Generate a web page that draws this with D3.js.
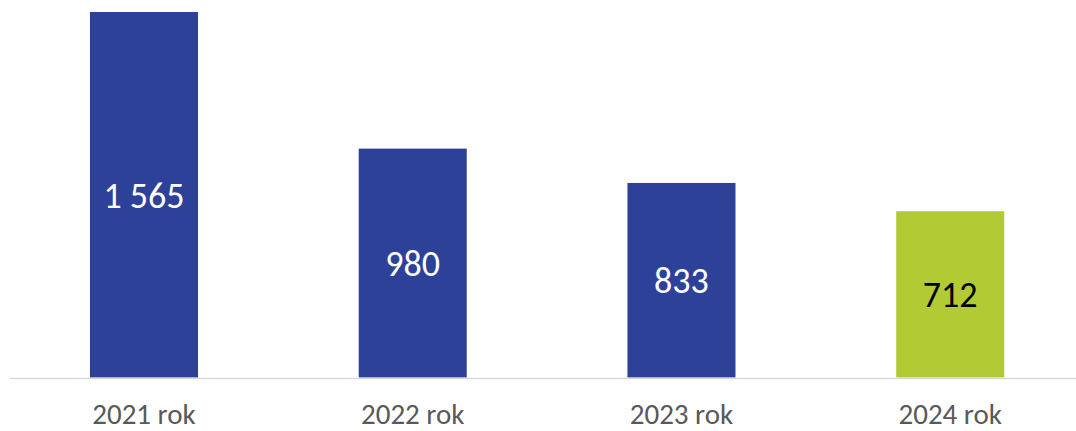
<!DOCTYPE html>
<html><head><meta charset="utf-8">
<script src="https://cdn.jsdelivr.net/npm/d3@7"></script>
<style>html,body{margin:0;padding:0;background:#fff;}svg{display:block;}</style>
</head><body>
<svg id="chart" width="1076" height="431"></svg>
<script>
const categories = ["2021 rok", "2022 rok", "2023 rok", "2024 rok"];
const values = [1565, 980, 833, 712];
const labels = ["1 565", "980", "833", "712"];
const barColors = ["#2E4199", "#2E4199", "#2E4199", "#B2CB35"];
const labelColors = ["#ffffff", "#ffffff", "#ffffff", "#000000"];

const svg = d3.select("#chart");
const font = "Carlito, Lato, 'Liberation Sans', sans-serif";
const x = d3.scaleBand().domain(categories).range([9.6, 1084.6]).paddingInner(0.598).paddingOuter(0.299);
const y = d3.scaleLinear().domain([0, 1565]).range([377.5, 12]);

svg.selectAll("rect.bar").data(values).join("rect")
  .attr("class", "bar")
  .attr("x", (d, i) => x(categories[i]))
  .attr("width", x.bandwidth())
  .attr("y", d => y(d))
  .attr("height", d => y(0) - y(d))
  .attr("fill", (d, i) => barColors[i]);

svg.append("line").attr("x1", 10).attr("x2", 1076).attr("y1", 378.5).attr("y2", 378.5)
  .attr("stroke", "#d9d9d9").attr("stroke-width", 1.5);

svg.selectAll("text.val").data(values).join("text")
  .attr("class", "val")
  .attr("x", (d, i) => x(categories[i]) + x.bandwidth() / 2)
  .attr("y", d => (y(d) + y(0)) / 2)
  .attr("dy", "0.36em")
  .attr("text-anchor", "middle")
  .attr("font-family", font).attr("font-size", 36)
  .attr("fill", (d, i) => labelColors[i])
  .text((d, i) => labels[i]);

svg.selectAll("text.cat").data(categories).join("text")
  .attr("class", "cat")
  .attr("x", d => x(d) + x.bandwidth() / 2)
  .attr("y", 424)
  .attr("text-anchor", "middle")
  .attr("font-family", font).attr("font-size", 29)
  .attr("fill", "#595959")
  .text(d => d);
</script>
</body></html>
